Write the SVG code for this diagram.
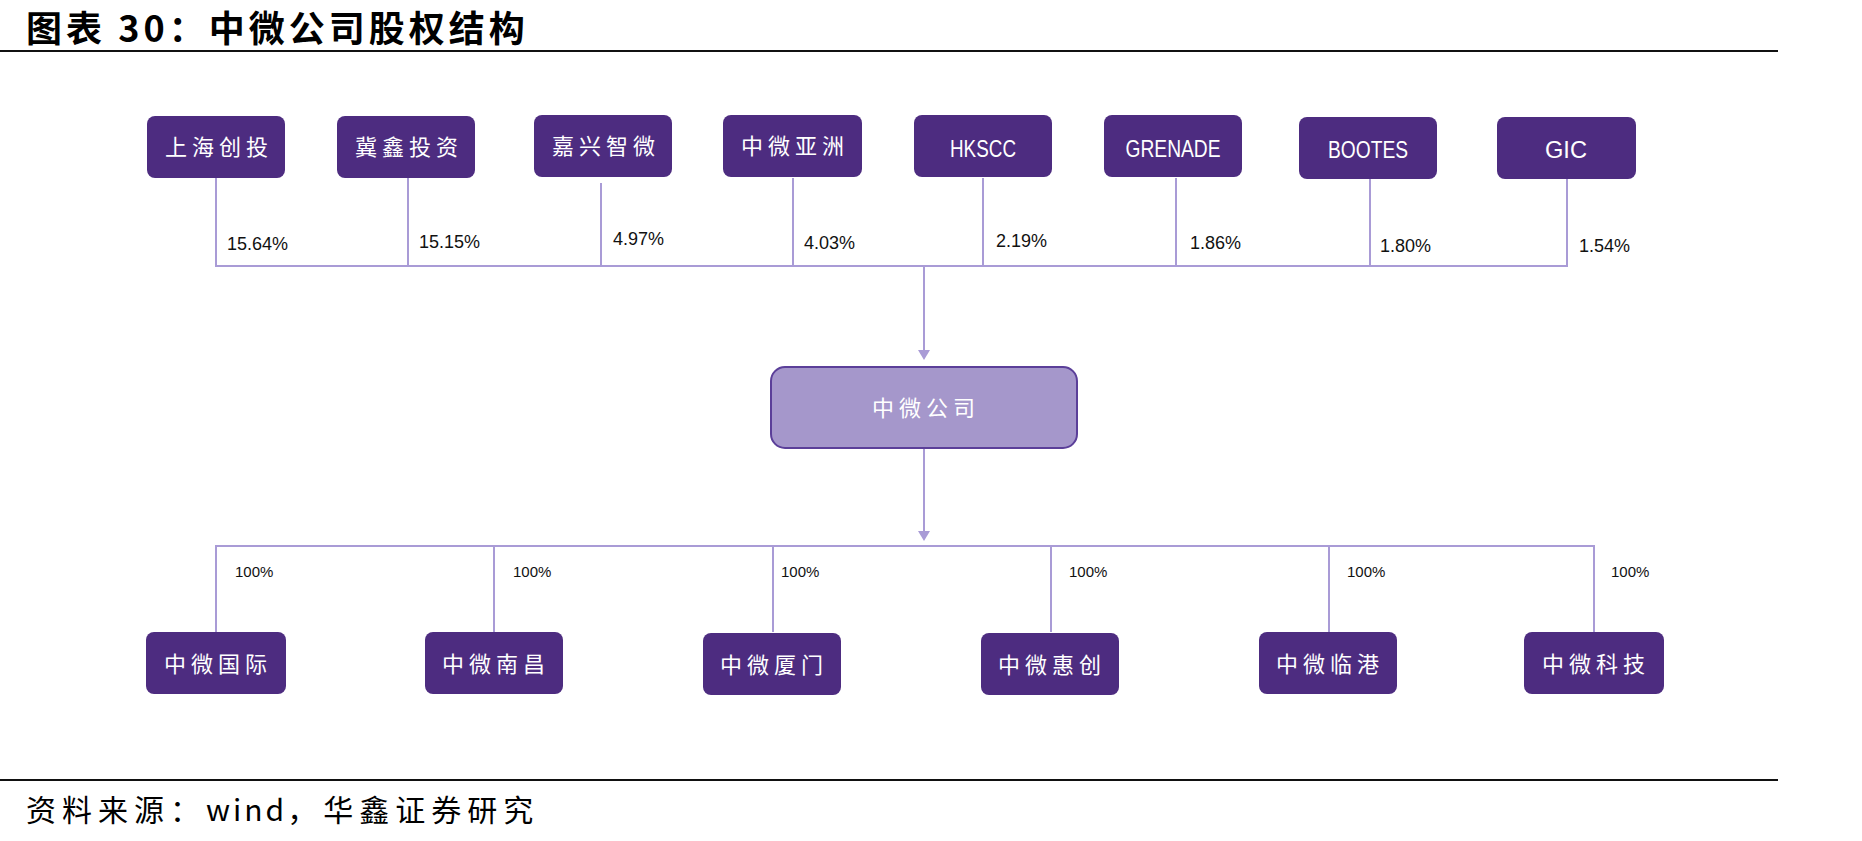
<svg xmlns="http://www.w3.org/2000/svg" width="1862" height="841" viewBox="0 0 1862 841">
<style>
.node rect{fill:#4D2C80;}
.ntxt{fill:#ffffff;font-family:"Noto Sans CJK SC",sans-serif;font-size:22px;letter-spacing:5px;text-anchor:middle;}
.etxt{fill:#ffffff;font-family:"Liberation Sans",sans-serif;font-size:24px;text-anchor:middle;}
.pct{fill:#111111;font-family:"Liberation Sans",sans-serif;font-size:18px;}
.pct2{fill:#111111;font-family:"Liberation Sans",sans-serif;font-size:15px;}
.conn line{stroke:#A99BD6;stroke-width:2;fill:none;}
.arrow{fill:#A99BD6;}
.rule{stroke:#111111;stroke-width:2;}
</style>
<rect width="1862" height="841" fill="#ffffff"/>
<g id="title">
<text x="26" y="42" font-family="'Noto Sans CJK SC',sans-serif" font-size="36" font-weight="bold" letter-spacing="4" fill="#000">图表 30：中微公司股权结构</text>
<line class="rule" x1="0" y1="51" x2="1778" y2="51"/>
</g>
<g class="conn" id="connectors">
<line x1="216" y1="178" x2="216" y2="267"/>
<line x1="408" y1="178" x2="408" y2="267"/>
<line x1="601" y1="183" x2="601" y2="267"/>
<line x1="793" y1="178" x2="793" y2="267"/>
<line x1="983" y1="178" x2="983" y2="267"/>
<line x1="1176" y1="178" x2="1176" y2="267"/>
<line x1="1370" y1="179" x2="1370" y2="267"/>
<line x1="1567" y1="179" x2="1567" y2="267"/>
<line x1="215" y1="266" x2="1568" y2="266"/>
<line x1="924" y1="266" x2="924" y2="352"/>
<path class="arrow" d="M918,350 L930,350 L924,360 Z"/>
<line x1="924" y1="448" x2="924" y2="533"/>
<path class="arrow" d="M918,531 L930,531 L924,541 Z"/>
<line x1="215" y1="546" x2="1595" y2="546"/>
<line x1="216" y1="546" x2="216" y2="632"/>
<line x1="494" y1="546" x2="494" y2="632"/>
<line x1="773" y1="546" x2="773" y2="632"/>
<line x1="1051" y1="546" x2="1051" y2="632"/>
<line x1="1329" y1="546" x2="1329" y2="632"/>
<line x1="1594" y1="546" x2="1594" y2="632"/>
</g>
<g id="pct-top">
<text class="pct" x="227" y="250">15.64%</text>
<text class="pct" x="419" y="248">15.15%</text>
<text class="pct" x="613" y="245">4.97%</text>
<text class="pct" x="804" y="249">4.03%</text>
<text class="pct" x="996" y="247">2.19%</text>
<text class="pct" x="1190" y="249">1.86%</text>
<text class="pct" x="1380" y="252">1.80%</text>
<text class="pct" x="1579" y="252">1.54%</text>
</g>
<g id="pct-bottom">
<text class="pct2" x="235" y="577">100%</text>
<text class="pct2" x="513" y="577">100%</text>
<text class="pct2" x="781" y="577">100%</text>
<text class="pct2" x="1069" y="577">100%</text>
<text class="pct2" x="1347" y="577">100%</text>
<text class="pct2" x="1611" y="577">100%</text>
</g>
<g id="n1" class="node"><rect x="147" y="116" width="138" height="62" rx="8"/><text class="ntxt" x="219" y="155">上海创投</text></g>
<g id="n2" class="node"><rect x="337" y="116" width="138" height="62" rx="8"/><text class="ntxt" x="409" y="155">冀鑫投资</text></g>
<g id="n3" class="node"><rect x="534" y="115" width="138" height="62" rx="8"/><text class="ntxt" x="606" y="154">嘉兴智微</text></g>
<g id="n4" class="node"><rect x="723" y="115" width="139" height="62" rx="8"/><text class="ntxt" x="795" y="154">中微亚洲</text></g>
<g id="n5" class="node"><rect x="914" y="115" width="138" height="62" rx="8"/><text class="etxt" x="983" y="157" textLength="66" lengthAdjust="spacingAndGlyphs">HKSCC</text></g>
<g id="n6" class="node"><rect x="1104" y="115" width="138" height="62" rx="8"/><text class="etxt" x="1173" y="157" textLength="95" lengthAdjust="spacingAndGlyphs">GRENADE</text></g>
<g id="n7" class="node"><rect x="1299" y="117" width="138" height="62" rx="8"/><text class="etxt" x="1368" y="158" textLength="80" lengthAdjust="spacingAndGlyphs">BOOTES</text></g>
<g id="n8" class="node"><rect x="1497" y="117" width="139" height="62" rx="8"/><text class="etxt" x="1566" y="158" textLength="42" lengthAdjust="spacingAndGlyphs">GIC</text></g>
<g id="center"><rect x="771" y="367" width="306" height="81" rx="14" fill="#A597CB" stroke="#5B3F99" stroke-width="2"/><text class="ntxt" x="926" y="416">中微公司</text></g>
<g id="s1" class="node"><rect x="146" y="632" width="140" height="62" rx="8"/><text class="ntxt" x="218" y="672">中微国际</text></g>
<g id="s2" class="node"><rect x="425" y="632" width="138" height="62" rx="8"/><text class="ntxt" x="496" y="672">中微南昌</text></g>
<g id="s3" class="node"><rect x="703" y="633" width="138" height="62" rx="8"/><text class="ntxt" x="774" y="673">中微厦门</text></g>
<g id="s4" class="node"><rect x="981" y="633" width="138" height="62" rx="8"/><text class="ntxt" x="1052" y="673">中微惠创</text></g>
<g id="s5" class="node"><rect x="1259" y="632" width="138" height="62" rx="8"/><text class="ntxt" x="1330" y="672">中微临港</text></g>
<g id="s6" class="node"><rect x="1524" y="632" width="140" height="62" rx="8"/><text class="ntxt" x="1596" y="672">中微科技</text></g>
<g id="footer">
<line class="rule" x1="0" y1="780" x2="1778" y2="780"/>
<text x="26" y="821" font-family="'Noto Sans CJK SC',sans-serif" font-size="30" letter-spacing="6" fill="#000">资料来源：<tspan letter-spacing="3">wind</tspan>，华鑫证券研究</text>
</g>
</svg>
